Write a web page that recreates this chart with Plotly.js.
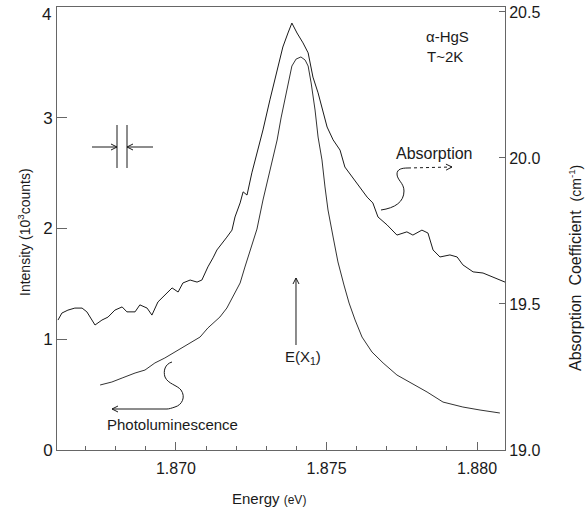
<!DOCTYPE html>
<html><head><meta charset="utf-8">
<script src="https://cdn.plot.ly/plotly-3.0.1.min.js"></script>
<style>html,body{margin:0;padding:0;background:#fff}</style>
</head><body><div id="chart" style="width:587px;height:512px"></div>
<script>
// Absorption spectrum (right axis, absorption coefficient)
const energyAbs = [1.86608,1.86621,1.86641,1.86664,1.86688,1.86704,1.86731,1.86754,1.86774,1.86797,1.86821,1.86837,1.86864,1.86880,1.86904,1.86920,1.86940,1.86963,1.86987,1.87007,1.87023,1.87047,1.87070,1.87086,1.87106,1.87123,1.87136,1.87169,1.87186,1.87196,1.87213,1.87223,1.87236,1.87252,1.87272,1.87289,1.87312,1.87336,1.87355,1.87372,1.87385,1.87402,1.87422,1.87439,1.87455,1.87472,1.87488,1.87502,1.87522,1.87545,1.87561,1.87585,1.87611,1.87635,1.87654,1.87671,1.87701,1.87734,1.87767,1.87787,1.87817,1.87837,1.87854,1.87877,1.87910,1.87934,1.87953,1.87987,1.88020,1.88053,1.88093];
const absCoef = [19.445,19.469,19.479,19.486,19.486,19.473,19.428,19.445,19.455,19.479,19.490,19.473,19.473,19.497,19.486,19.462,19.507,19.531,19.555,19.541,19.572,19.582,19.575,19.582,19.627,19.658,19.685,19.729,19.753,19.798,19.846,19.884,19.873,19.949,20.027,20.096,20.199,20.301,20.380,20.428,20.462,20.428,20.394,20.360,20.277,20.223,20.164,20.106,20.062,20.027,19.969,19.935,19.901,19.866,19.846,19.798,19.771,19.736,19.747,19.736,19.753,19.743,19.685,19.661,19.668,19.661,19.634,19.610,19.606,19.592,19.575];
// Photoluminescence spectrum (left axis, 10^3 counts)
const energyPL = [1.86748,1.86787,1.86821,1.86864,1.86897,1.86930,1.86963,1.86997,1.87023,1.87053,1.87080,1.87106,1.87123,1.87146,1.87169,1.87189,1.87213,1.87229,1.87246,1.87269,1.87289,1.87312,1.87336,1.87349,1.87362,1.87375,1.87385,1.87399,1.87415,1.87429,1.87439,1.87449,1.87462,1.87472,1.87485,1.87495,1.87505,1.87522,1.87538,1.87558,1.87575,1.87595,1.87618,1.87651,1.87688,1.87734,1.87777,1.87834,1.87887,1.87953,1.88010,1.88076];
const plIntensity = [0.587,0.614,0.650,0.695,0.722,0.786,0.831,0.885,0.930,0.975,1.020,1.102,1.147,1.201,1.282,1.381,1.508,1.652,1.806,1.995,2.257,2.528,2.799,2.998,3.160,3.341,3.467,3.530,3.549,3.521,3.467,3.314,3.070,2.826,2.619,2.375,2.167,1.923,1.698,1.490,1.327,1.174,1.020,0.885,0.786,0.677,0.614,0.524,0.433,0.388,0.361,0.334];

const xTickVals = [1.870, 1.875, 1.880];
const xTickText = ['1.870', '1.875', '1.880'];
const yTickVals = [0, 1, 2, 3, 4];
const yTickText = ['0', '1', '2', '3', '4'];
const y2TickVals = [19.0, 19.5, 20.0, 20.5];
const y2TickText = ['19.0', '19.5', '20.0', '20.5'];

const W = 587, H = 512, L = 57, R = 82, T = 7, B = 62;
const pw = W - L - R, ph = H - T - B;
const fx = p => (p - L) / pw;
const fy = p => (H - B - p) / ph;
const FONT = 'Liberation Sans, Arial, sans-serif';
const INK = '#1a1a1a';
const FRAME = '#666';

function pathOf(pts) {
  return pts.map(s => {
    const c = s[0]; const n = s.slice(1);
    const out = [];
    for (let i = 0; i < n.length; i += 2) out.push(fx(n[i]).toFixed(5) + ',' + fy(n[i+1]).toFixed(5));
    return c + ' ' + out.join(' ');
  }).join(' ');
}

const traces = [
  {x: energyAbs, y: absCoef, yaxis: 'y2', type: 'scatter', mode: 'lines',
   line: {color: INK, width: 1}, hoverinfo: 'skip', showlegend: false},
  {x: energyPL, y: plIntensity, type: 'scatter', mode: 'lines',
   line: {color: '#333', width: 1}, hoverinfo: 'skip', showlegend: false}
];

function txt(text, x, y, size, extra) {
  return Object.assign({text: text, xref: 'paper', yref: 'paper', x: fx(x), y: fy(y),
    showarrow: false, xanchor: 'center', yanchor: 'middle',
    font: {family: FONT, size: size, color: INK}}, extra || {});
}

// the top tick label sits just below its tick in the reference
const topIdx = yTickVals.length - 1;
const axisTickText = yTickText.map((t, i) => i === topIdx ? '' : t);

const annotations = [
  {text: yTickText[topIdx], xref: 'paper', yref: 'y', x: 0, y: yTickVals[topIdx], xshift: -4, yshift: -7,
   showarrow: false, xanchor: 'right', yanchor: 'middle', font: {family: FONT, size: 17, color: INK}},
  txt('Intensity (10<sup>3</sup>counts)', 24, 232, 14, {textangle: -90}),
  txt('Energy <span style="font-size:12px">(eV)</span>', 269, 498, 15),
  txt('Absorption\u00a0 Coefficient\u00a0 <span style="font-size:14px">(cm<sup>-1</sup>)</span>', 575, 268, 16, {textangle: -90}),
  txt('\u03b1-HgS', 447, 36, 15),
  txt('T~2K', 445, 57, 15),
  txt('Absorption', 434, 153, 16),
  txt('Photoluminescence', 172, 424, 15),
  txt('E(X<sub>1</sub>)', 303, 357, 15)
];

const ln = (pts, dash) => ({type: 'path', xref: 'paper', yref: 'paper',
  line: {color: INK, width: 1, dash: dash || 'solid'}, path: pathOf(pts)});
function arrowShapes(x0, y0, x1, y1, dash) {
  const dx = x1 - x0, dy = y1 - y0, d = Math.hypot(dx, dy);
  const ux = dx / d, uy = dy / d, hl = 6, hw = 3;
  const bx = x1 - ux * hl, by = y1 - uy * hl;
  return [
    ln([['M', x0, y0], ['L', x1, y1]], dash),
    ln([['M', bx - uy * hw, by + ux * hw], ['L', x1, y1], ['L', bx + uy * hw, by - ux * hw]])
  ];
}

const shapes = [
  ln([['M', 381, 210], ['C', 395, 208, 404, 202, 404, 191], ['C', 404, 183, 397, 180, 397, 174], ['C', 397, 169, 402, 168, 408, 168]]),
  ln([['M', 172, 362], ['C', 165, 364, 163, 371, 165, 377], ['C', 168, 384, 177, 385, 181, 390], ['C', 186, 397, 182, 405, 175, 407], ['C', 172, 408, 169, 409, 167, 409]]),
  ln([['M', 117, 125], ['L', 117, 168]]),
  ln([['M', 127, 125], ['L', 127, 168]]),
  ...arrowShapes(296, 345, 296, 278),
  ...arrowShapes(408, 168, 452, 167, 'dot'),
  ...arrowShapes(167, 409, 112, 409),
  ...arrowShapes(92, 147, 117, 147),
  ...arrowShapes(153, 147, 127, 147)
];

const layout = {
  width: W, height: H,
  margin: {l: L, r: R, t: T, b: B, pad: 0},
  paper_bgcolor: '#fff', plot_bgcolor: '#fff',
  showlegend: false,
  font: {family: FONT, color: INK},
  xaxis: {range: [1.866047, 1.88093], tickmode: 'array', tickvals: xTickVals, ticktext: xTickText,
    ticks: 'inside', ticklen: 8, tickwidth: 1, tickcolor: FRAME,
    minor: {tickmode: 'linear', tick0: 1.870, dtick: 0.001, ticks: 'inside', ticklen: 4, tickcolor: FRAME, showgrid: false},
    showline: true, linecolor: FRAME, linewidth: 1, mirror: true,
    showgrid: false, zeroline: false, tickfont: {family: FONT, size: 16, color: INK}, ticklabelstandoff: 4},
  yaxis: {range: [0, 4], tickmode: 'array', tickvals: yTickVals, ticktext: axisTickText,
    ticks: 'inside', ticklen: 10, tickwidth: 1, tickcolor: FRAME,
    showline: true, linecolor: FRAME, linewidth: 1,
    showgrid: false, zeroline: false, tickfont: {family: FONT, size: 17, color: INK}},
  yaxis2: {range: [19.0, 20.517], overlaying: 'y', side: 'right', anchor: 'x',
    tickmode: 'array', tickvals: y2TickVals, ticktext: y2TickText, ticklabeloverflow: 'allow',
    ticks: 'inside', ticklen: 6, tickwidth: 1, tickcolor: FRAME,
    showline: true, linecolor: FRAME, linewidth: 1,
    showgrid: false, zeroline: false, tickfont: {family: FONT, size: 16, color: INK}},
  annotations: annotations,
  shapes: shapes
};

Plotly.newPlot('chart', traces, layout, {staticPlot: true, displayModeBar: false});
</script>
</body></html>
